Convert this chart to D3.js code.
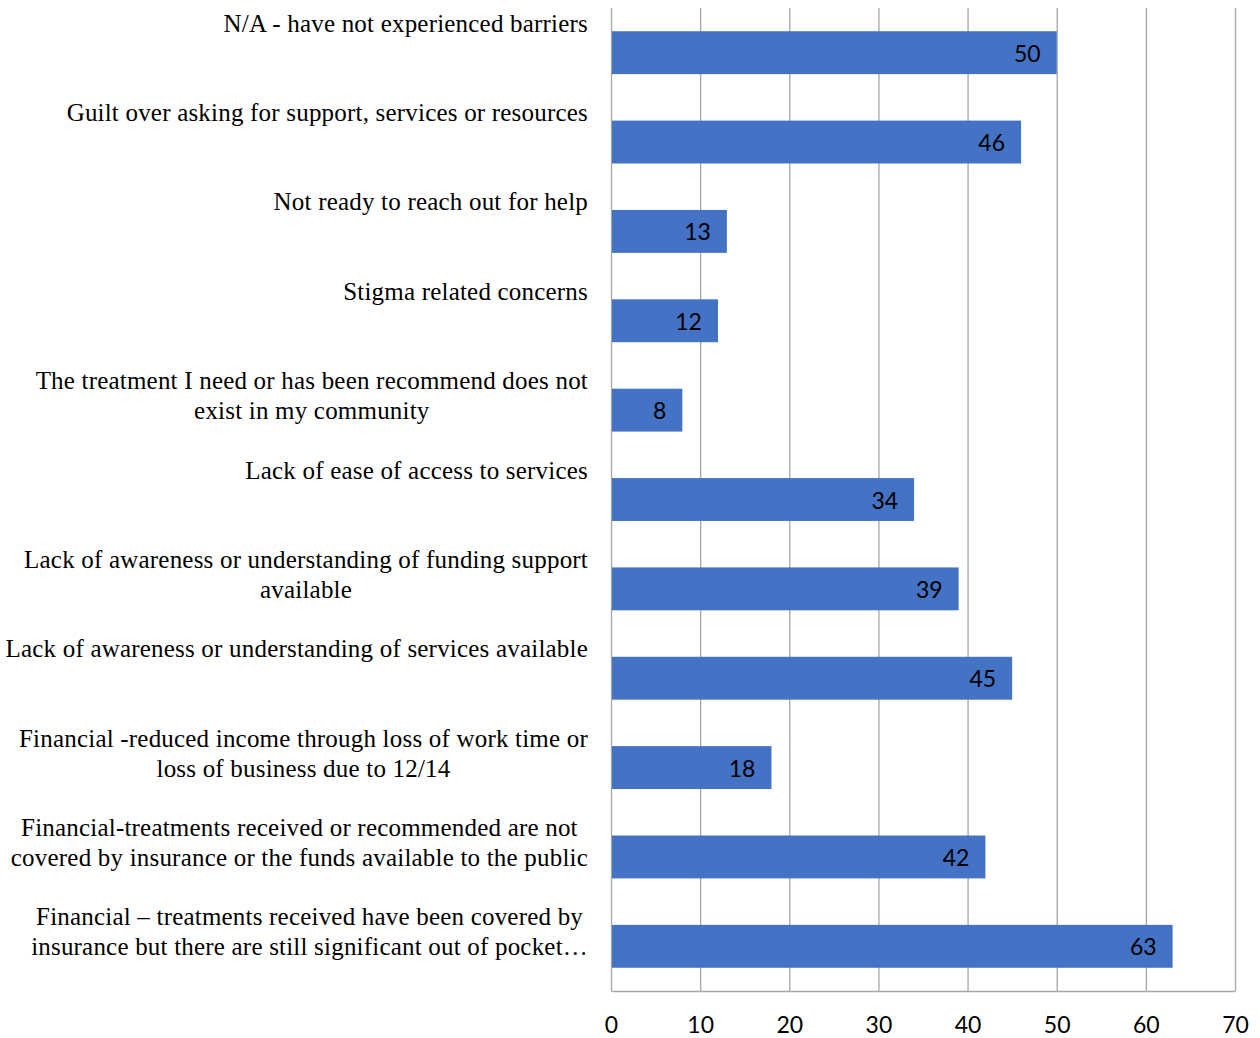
<!DOCTYPE html>
<html><head><meta charset="utf-8">
<script src="https://cdn.jsdelivr.net/npm/d3@7"></script>
<style>body{margin:0;background:#fff}</style>
</head><body>
<svg id="c" width="1260" height="1038"></svg>
<script>
const categories = [
  ["N/A - have not experienced barriers"],
  ["Guilt over asking for support, services or resources"],
  ["Not ready to reach out for help"],
  ["Stigma related concerns"],
  ["The treatment I need or has been recommend does not", "exist in my community"],
  ["Lack of ease of access to services"],
  ["Lack of awareness or understanding of funding support", "available"],
  ["Lack of awareness or understanding of services available"],
  ["Financial -reduced income through loss of work time or", "loss of business due to 12/14"],
  ["Financial-treatments received or recommended are not", "covered by insurance or the funds available to the public"],
  ["Financial \u2013 treatments received have been covered by", "insurance but there are still significant out of pocket\u2026"]
];
const values = [50, 46, 13, 12, 8, 34, 39, 45, 18, 42, 63];
const xTicks = [0, 10, 20, 30, 40, 50, 60, 70];

(function(){
const svg = d3.select("#c");
const pl = 611, pr = 1235, pt = 8, pb = 991;
const x = d3.scaleLinear().domain([0, 70]).range([pl, pr]);
const y = d3.scaleBand().domain(d3.range(categories.length)).range([pt, pb]).paddingInner(0.52).paddingOuter(0.26);

// gridlines
svg.append("g").selectAll("line").data(xTicks.slice(1)).join("line")
  .attr("x1", d => x(d)+0.5).attr("x2", d => x(d)+0.5)
  .attr("y1", pt).attr("y2", pb)
  .attr("stroke", "#a6a6a6").attr("stroke-width", 1.3);

// axis
const ax = svg.append("g").attr("transform", `translate(0,${pb})`)
  .call(d3.axisBottom(x).tickValues(xTicks).tickSize(0).tickPadding(26));
ax.select(".domain").attr("stroke", "#a6a6a6").attr("stroke-width", 1.3);
ax.selectAll("text").attr("font-family", "Lato, 'Open Sans', sans-serif").attr("font-size", 23).attr("fill", "#000");
svg.append("line").attr("x1", pl+0.5).attr("x2", pl+0.5).attr("y1", pt).attr("y2", pb)
  .attr("stroke", "#a6a6a6").attr("stroke-width", 1.3);

// bars
svg.append("g").selectAll("rect").data(values).join("rect")
  .attr("x", x(0)+1).attr("y", (d,i) => y(i))
  .attr("width", d => x(d) - x(0) - 1).attr("height", y.bandwidth())
  .attr("fill", "#4472c4");

// value labels
svg.append("g").selectAll("text").data(values).join("text")
  .attr("x", d => x(d) - 16).attr("y", (d,i) => y(i) + y.bandwidth()/2 + 9)
  .attr("text-anchor", "end")
  .attr("font-family", "Lato, 'Open Sans', sans-serif").attr("font-size", 23).attr("fill", "#000")
  .text(d => d);

// category labels
const labelRight = 588;
const lg = svg.append("g").attr("font-family", "'Liberation Serif', 'DejaVu Serif', serif")
  .attr("font-size", 25).attr("letter-spacing", 0.2).attr("fill", "#000");
categories.forEach((lines, i) => {
  const cy = y(i) + y.bandwidth()/2;
  const t = lg.append("text").attr("text-anchor", "middle");
  const spans = lines.map((ln, j) => t.append("tspan").attr("y", cy - 21 + j*30).text(ln));
  const w = d3.max(spans, s => s.node().getComputedTextLength());
  spans.forEach(s => s.attr("x", labelRight - w/2));
});
})();
</script>
</body></html>
